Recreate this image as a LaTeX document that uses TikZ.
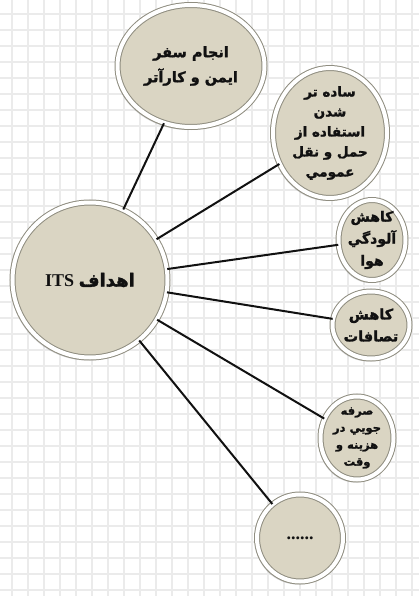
\documentclass[tikz,border=0pt]{standalone}
\usepackage{fontspec}
\setmainfont{Liberation Serif}
\newfontfamily\arabicfont[Script=Arabic,FakeBold=1.6]{DejaVu Sans Bold}
\TeXXeTstate=1
\usepackage{tikz}
\usetikzlibrary{shapes.geometric,shadows}
\definecolor{disc}{HTML}{DAD5C3}
\definecolor{rim}{HTML}{8F8D80}
\definecolor{gridgray}{HTML}{EBEBEB}
\definecolor{ink}{HTML}{111111}
\tikzset{
  goal/.style={ellipse,draw=rim,line width=1pt,double=white,double distance=4pt,
    fill=disc,inner sep=-8pt,align=center,text=ink,
    drop shadow={shadow xshift=-2pt,shadow yshift=-3pt,opacity=0.35}},
  hub/.style={goal,minimum size=155pt,font=\bfseries\fontsize{18}{22}\selectfont},
  ln/.style={draw=ink,line width=2pt},
  gridln/.style={draw=gridgray,line width=2pt},
}
\newcommand{\fa}[1]{\beginR #1\endR}

\begin{document}
\begin{tikzpicture}[x=1pt,y=-1pt]
  \useasboundingbox[fill=white] (0,0) rectangle (419,596);
  \foreach \gx in {0,...,25} \draw[gridln] ({12.3+16*\gx},0) -- ({12.3+16*\gx},596);
  \foreach \gy in {0,...,36} \draw[gridln] (0,{14+16*\gy}) -- (419,{14+16*\gy});
  \node[hub] (its) at (90,280) {\beginR{\arabicfont اهداف} \beginL ITS\endL\endR};
  \node[goal,minimum width=147pt,minimum height=122pt,
    font=\arabicfont\fontsize{14.5}{25}\selectfont] (safe) at (191,66)
    {\fa{انجام سفر}\\\fa{ایمن و کارآتر}};
  \node[goal,minimum width=114pt,minimum height=130pt,inner sep=-14pt,
    font=\arabicfont\fontsize{13.5}{20}\selectfont] (transit) at (330,133)
    {\fa{ساده تر}\\\fa{شدن}\\\fa{استفاده از}\\\fa{حمل و نقل}\\\fa{عمومي}};
  \node[goal,minimum width=67pt,minimum height=80pt,
    font=\arabicfont\fontsize{14}{22}\selectfont] (air) at (372,240)
    {\fa{كاهش}\\\fa{آلودگي}\\\fa{هوا}};
  \node[goal,minimum width=77pt,minimum height=67pt,
    font=\arabicfont\fontsize{14.5}{22}\selectfont] (crash) at (371,325)
    {\fa{كاهش}\\\fa{تصافات}};
  \node[goal,minimum width=73pt,minimum height=83pt,
    font=\arabicfont\fontsize{11.5}{17}\selectfont] (cost) at (357,438)
    {\fa{صرفه}\\\fa{جويي در}\\\fa{هزينه و}\\\fa{وقت}};
  \node[goal,minimum width=86pt,minimum height=87pt,
    font=\bfseries\fontsize{18}{20}\selectfont] (more) at (300,538) {......};
  \foreach \g in {safe,transit,air,crash,cost,more} \draw[ln] (its) -- (\g);
\end{tikzpicture}
\end{document}
